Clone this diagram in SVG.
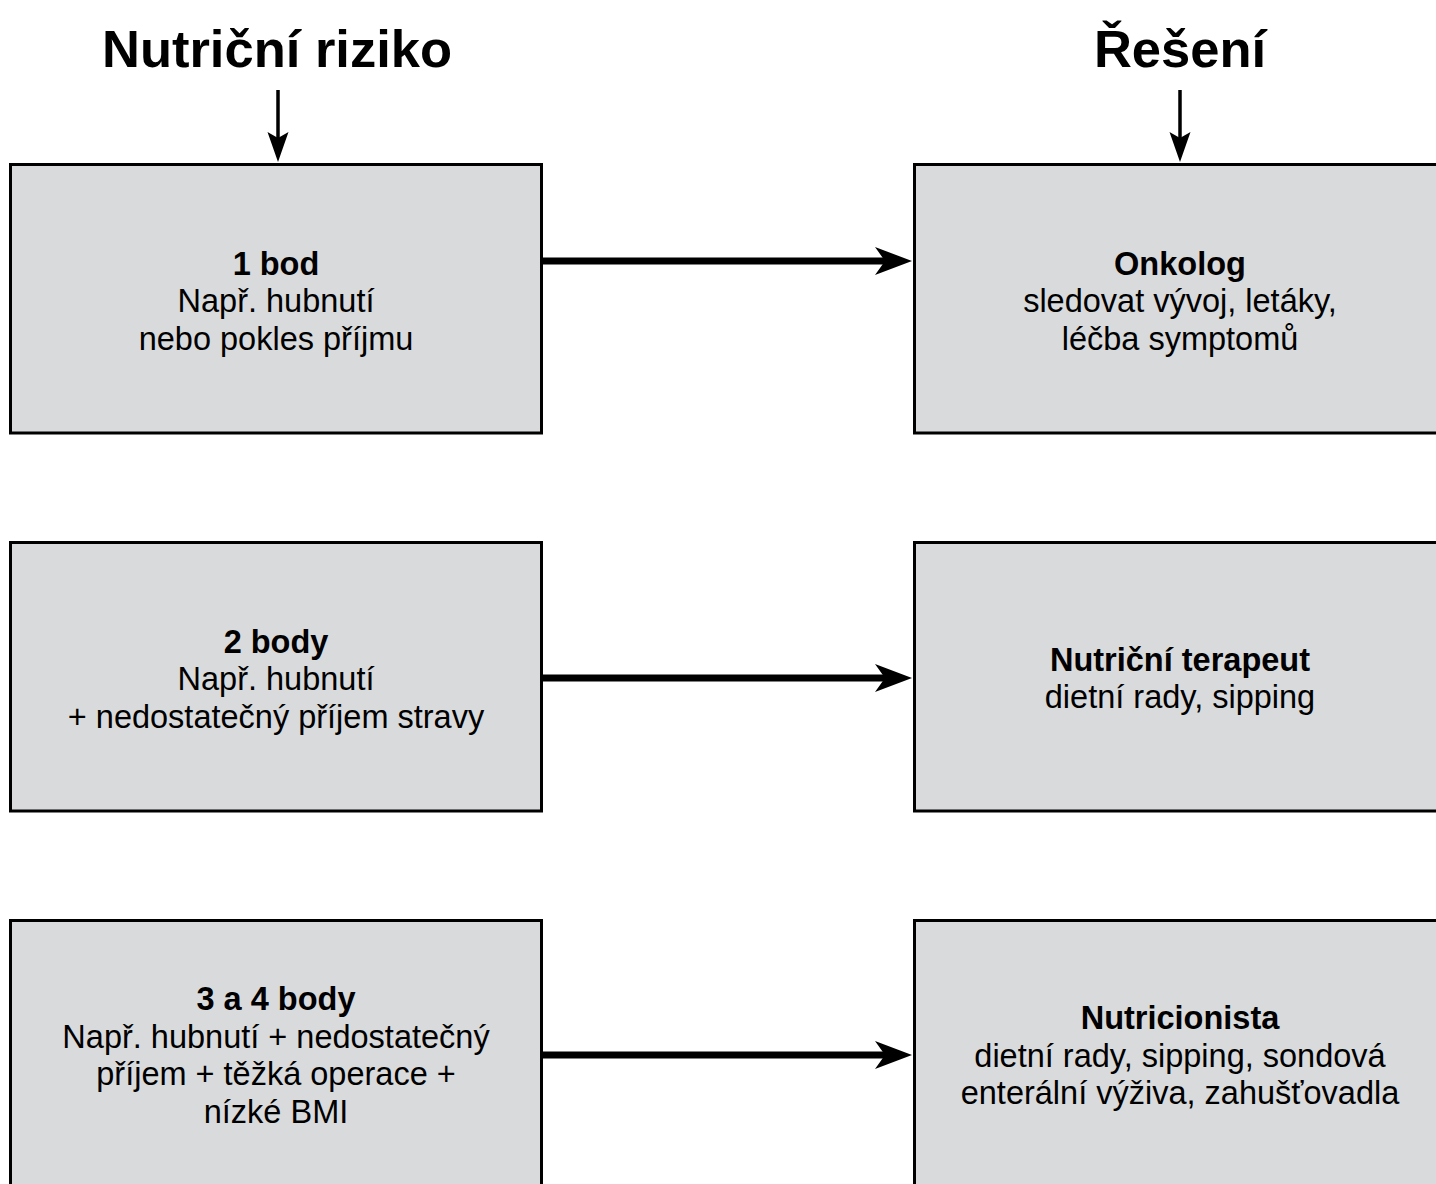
<svg xmlns="http://www.w3.org/2000/svg" width="1436" height="1184" viewBox="0 0 1436 1184">
<defs>
<style>
.box{fill:#d9dadc;stroke:#000;stroke-width:3}
.t{font-family:"Liberation Sans",Arial,Helvetica,sans-serif;font-size:32.5px;text-anchor:middle;fill:#000}
.b{font-weight:bold}
.h{font-family:"Liberation Sans",Arial,Helvetica,sans-serif;font-size:52.5px;font-weight:bold;text-anchor:middle;fill:#000}
.conn{stroke:#000;stroke-width:7;fill:none}
.vconn{stroke:#000;stroke-width:3.5;fill:none}
</style>
<marker id="hh" viewBox="0 0 40 30" refX="28" refY="15" markerWidth="40" markerHeight="30" markerUnits="userSpaceOnUse" orient="auto">
<path d="M3,1 L40,15 L3,29 L13,15 Z" fill="#000"/>
</marker>
<marker id="vh" viewBox="0 0 30 22" refX="18" refY="11" markerWidth="30" markerHeight="22" markerUnits="userSpaceOnUse" orient="auto">
<path d="M0,0.5 L30,11 L0,21.5 L6,11 Z" fill="#000"/>
</marker>
</defs>
<rect width="1436" height="1184" fill="#fff"/>
<g id="headers">
<text class="h" x="277" y="67">Nutriční riziko</text>
<text class="h" x="1180" y="67">Řešení</text>
</g>
<g id="risk1">
<rect class="box" x="10.5" y="164.5" width="531" height="268.5"/>
<text class="t b" x="276" y="274.5">1 bod</text>
<text class="t" x="276" y="312">Např. hubnutí</text>
<text class="t" x="276" y="349.5">nebo pokles příjmu</text>
</g>
<g id="risk2">
<rect class="box" x="10.5" y="542.5" width="531" height="268.5"/>
<text class="t b" x="276" y="652.5">2 body</text>
<text class="t" x="276" y="690">Např. hubnutí</text>
<text class="t" x="276" y="727.5">+ nedostatečný příjem stravy</text>
</g>
<g id="risk3">
<rect class="box" x="10.5" y="920.5" width="531" height="280"/>
<text class="t b" x="276" y="1010">3 a 4 body</text>
<text class="t" x="276" y="1047.5">Např. hubnutí + nedostatečný</text>
<text class="t" x="276" y="1085">příjem + těžká operace +</text>
<text class="t" x="276" y="1122.5">nízké BMI</text>
</g>
<g id="sol1">
<rect class="box" x="914.5" y="164.5" width="540" height="268.5"/>
<text class="t b" x="1180" y="274.5">Onkolog</text>
<text class="t" x="1180" y="312">sledovat vývoj, letáky,</text>
<text class="t" x="1180" y="349.5">léčba symptomů</text>
</g>
<g id="sol2">
<rect class="box" x="914.5" y="542.5" width="540" height="268.5"/>
<text class="t b" x="1180" y="670.5">Nutriční terapeut</text>
<text class="t" x="1180" y="708">dietní rady, sipping</text>
</g>
<g id="sol3">
<rect class="box" x="914.5" y="920.5" width="540" height="280"/>
<text class="t b" x="1180" y="1029">Nutricionista</text>
<text class="t" x="1180" y="1066.5">dietní rady, sipping, sondová</text>
<text class="t" x="1180" y="1104">enterální výživa, zahušťovadla</text>
</g>
<g id="connectors">
<line class="vconn" x1="278" y1="90" x2="278" y2="150" marker-end="url(#vh)"/>
<line class="vconn" x1="1180" y1="90" x2="1180" y2="150" marker-end="url(#vh)"/>
<line class="conn" x1="542" y1="261" x2="900" y2="261" marker-end="url(#hh)"/>
<line class="conn" x1="542" y1="678" x2="900" y2="678" marker-end="url(#hh)"/>
<line class="conn" x1="542" y1="1055" x2="900" y2="1055" marker-end="url(#hh)"/>
</g>
</svg>
